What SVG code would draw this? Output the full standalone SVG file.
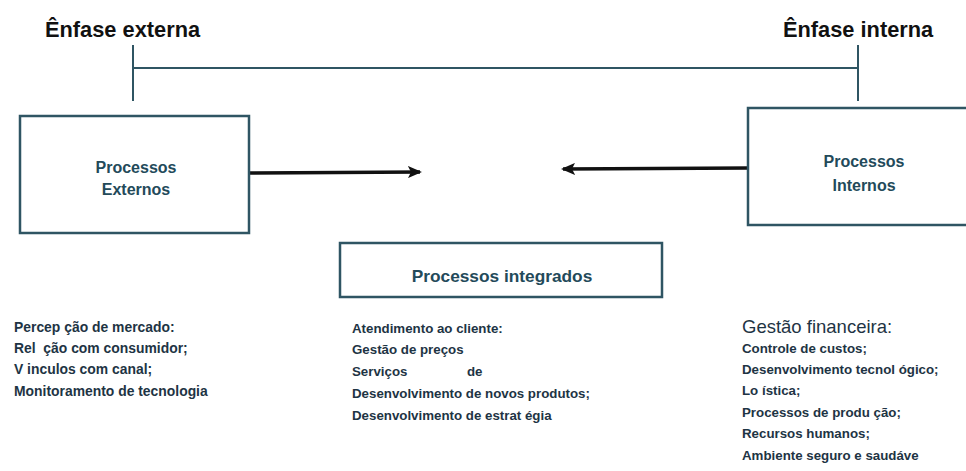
<svg xmlns="http://www.w3.org/2000/svg" width="966" height="471" viewBox="0 0 966 471">
<style>
.title{font-family:"Liberation Sans",Arial,sans-serif;font-weight:bold;font-size:21.8px;fill:#111}
.box{fill:#fff;stroke:#2f5563;stroke-width:2.5}
.bt{font-family:"Liberation Sans",Arial,sans-serif;font-weight:bold;font-size:16px;fill:#234a5a;text-anchor:middle}
.ln{stroke:#2f5563;stroke-width:2;fill:none}
.arr{stroke:#111;stroke-width:3.5;fill:none}
.lst{font-family:"Liberation Sans",Arial,sans-serif;font-weight:bold;font-size:13.3px;fill:#1e3444;white-space:pre}
.big{font-family:"Liberation Sans",Arial,sans-serif;font-size:18.5px;fill:#1e3444}
</style>
<defs>
<marker id="ah" markerWidth="14" markerHeight="12" refX="12" refY="6" orient="auto" markerUnits="userSpaceOnUse" viewBox="0 0 14 12">
<path d="M0,0 L14,6 L0,12 L3,6 Z" fill="#111"/>
</marker>
</defs>
<g id="enfase-externa"><text class="title" x="45" y="37">Ênfase externa</text></g>
<g id="enfase-interna"><text class="title" x="783" y="37">Ênfase interna</text></g>
<g id="connectors">
<line class="ln" x1="133" y1="68" x2="858" y2="68"/>
<line class="ln" x1="133" y1="45" x2="133" y2="101"/>
<line class="ln" x1="858" y1="45" x2="858" y2="101"/>
<line class="arr" x1="249" y1="173" x2="420" y2="172" marker-end="url(#ah)"/>
<line class="arr" x1="748" y1="168" x2="563" y2="169" marker-end="url(#ah)"/>
</g>
<g id="processos-externos">
<rect class="box" x="20" y="116" width="229" height="117"/>
<text class="bt" x="136" y="173">Processos</text>
<text class="bt" x="136" y="195">Externos</text>
</g>
<g id="processos-internos">
<rect class="box" x="748" y="108" width="230" height="117"/>
<text class="bt" x="864" y="167">Processos</text>
<text class="bt" x="864" y="191">Internos</text>
</g>
<g id="processos-integrados">
<rect class="box" x="340" y="243" width="322" height="54"/>
<text class="bt" x="502" y="282" style="font-size:17.3px">Processos integrados</text>
</g>
<g id="lista-externos" style="font-size:13.9px">
<text class="lst" x="14" y="332" style="font-size:13.9px">Percep ção de mercado:</text>
<text class="lst" x="14" y="353" style="font-size:13.9px">Rel  ção com consumidor;</text>
<text class="lst" x="14" y="374" style="font-size:13.9px">V inculos com canal;</text>
<text class="lst" x="14" y="396" style="font-size:13.9px">Monitoramento de tecnologia</text>
</g>
<g id="lista-integrados">
<text class="lst" x="352" y="333">Atendimento ao cliente:</text>
<text class="lst" x="352" y="354">Gestão de preços</text>
<text class="lst" x="352" y="376"><tspan>Serviços</tspan><tspan x="467">de</tspan></text>
<text class="lst" x="352" y="398">Desenvolvimento de novos produtos;</text>
<text class="lst" x="352" y="420">Desenvolvimento de estrat égia</text>
</g>
<g id="lista-internos">
<text class="big" x="742" y="333">Gestão financeira:</text>
<text class="lst" x="742" y="353">Controle de custos;</text>
<text class="lst" x="742" y="374">Desenvolvimento tecnol ógico;</text>
<text class="lst" x="742" y="395">Lo ística;</text>
<text class="lst" x="742" y="417">Processos de produ ção;</text>
<text class="lst" x="742" y="438">Recursos humanos;</text>
<text class="lst" x="742" y="460">Ambiente seguro e saudáve</text>
</g>
</svg>
